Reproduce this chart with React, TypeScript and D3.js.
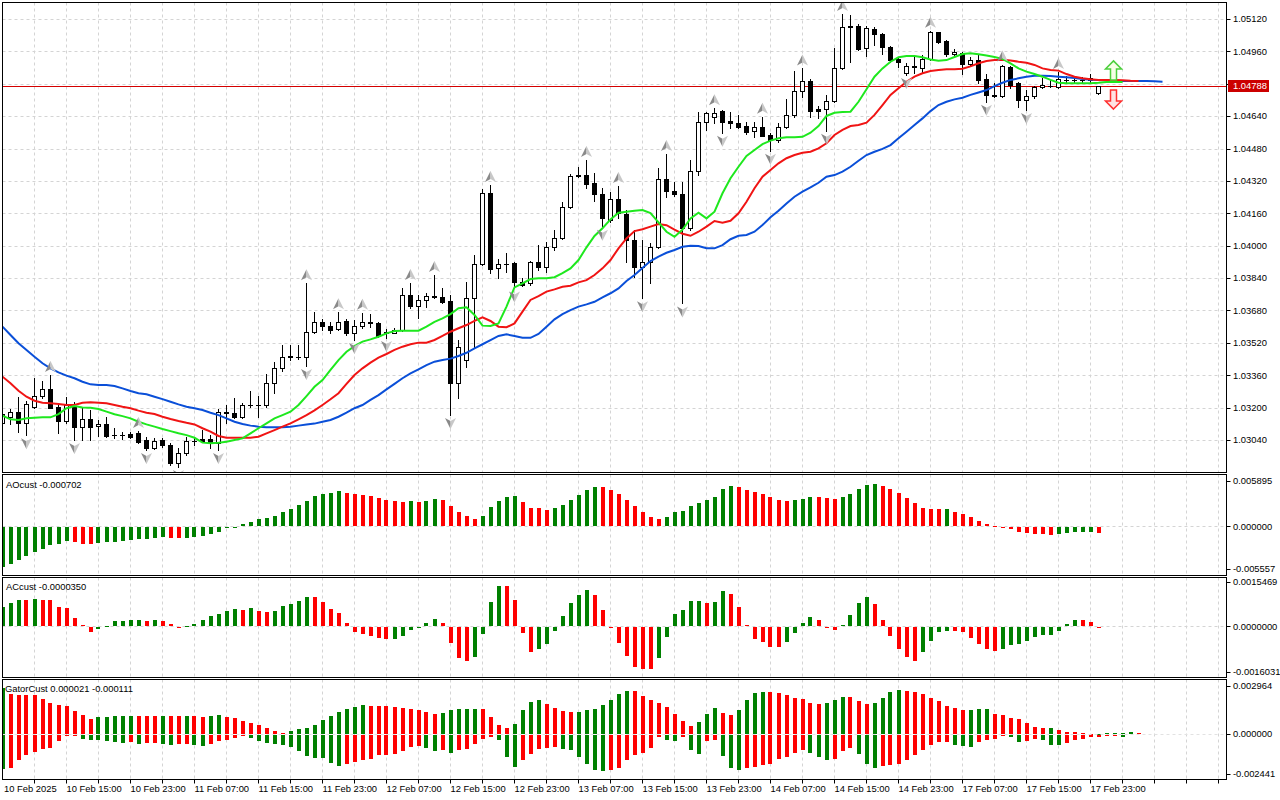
import * as d3 from "d3";
import React, { RefObject, useEffect, useRef } from "react";

// EURUSD H1, 10 Feb 2025 07:00 .. 18 Feb 2025 00:00, prices in points (1e-5)
const POINT = 0.00001;
const open = [
  103124, 103155, 103180, 103122, 103204, 103259, 103290, 103204, 103132, 103204,
  103106, 103142, 103109, 103119, 103063, 103064, 103070, 103076, 103040, 102999,
  103040, 103015, 102925, 102974, 103033, 103045, 103045, 103024, 103180, 103172,
  103152, 103211, 103213, 103213, 103320, 103394, 103455, 103449, 103450, 103575,
  103621, 103605, 103588, 103628, 103567, 103603, 103619, 103616, 103567, 103570,
  103583, 103756, 103703, 103732, 103749, 103748, 103727, 103323, 103435, 103740,
  103909, 104262, 103888, 103908, 103913, 103822, 103814, 103918, 103893, 103992,
  104036, 104190, 104346, 104349, 104308, 104255, 104127, 104229, 104157, 104028,
  103893, 103921, 103992, 104328, 104270, 104254, 104086, 104367, 104613, 104634,
  104665, 104616, 104605, 104591, 104567, 104585, 104547, 104522, 104585, 104646,
  104764, 104814, 104677, 104674, 104713, 104879, 105082, 105085, 104975, 105069,
  105046, 104983, 104921, 104852, 104884, 104879, 104921, 105054, 105011, 104946,
  104953, 104898, 104917, 104822, 104741, 104740, 104884, 104804, 104720, 104740,
  104782, 104791, 104782, 104817, 104819, 104820, 104830, 104753,
];
const high = [
  103193, 103193, 103254, 103233, 103346, 103333, 103361, 103213, 103254, 103229,
  103204, 103188, 103139, 103155, 103098, 103081, 103081, 103084, 103056, 103050,
  103050, 103024, 103000, 103056, 103055, 103089, 103064, 103192, 103213, 103246,
  103223, 103282, 103257, 103364, 103424, 103509, 103509, 103509, 103814, 103674,
  103636, 103624, 103671, 103636, 103633, 103669, 103662, 103621, 103588, 103595,
  103792, 103816, 103756, 103768, 103855, 103789, 103756, 103534, 103822, 103954,
  104278, 104300, 103933, 103965, 103921, 103840, 103922, 104003, 104020, 104077,
  104217, 104354, 104389, 104423, 104361, 104284, 104267, 104295, 104176, 104077,
  104028, 104012, 104382, 104453, 104316, 104316, 104423, 104662, 104662, 104679,
  104670, 104661, 104646, 104613, 104613, 104637, 104555, 104608, 104723, 104863,
  104876, 104825, 104690, 104745, 104978, 105145, 105140, 105095, 105085, 105079,
  105052, 104987, 104934, 104901, 104934, 104942, 105062, 105057, 105016, 104970,
  104958, 104931, 104942, 104848, 104802, 104895, 104890, 104809, 104769, 104789,
  104827, 104819, 104858, 104838, 104833, 104832, 104848, 104790,
];
const low = [
  103109, 103119, 103079, 103064, 103198, 103246, 103196, 103076, 103125, 103040,
  103040, 103040, 103060, 103056, 103048, 103043, 103048, 103024, 102990, 102995,
  103005, 102916, 102906, 102966, 103015, 103031, 102999, 102990, 103124, 103147,
  103147, 103204, 103155, 103204, 103271, 103381, 103435, 103439, 103406, 103570,
  103583, 103570, 103583, 103559, 103534, 103592, 103600, 103550, 103544, 103567,
  103580, 103691, 103644, 103698, 103740, 103715, 103163, 103246, 103402, 103501,
  103904, 103863, 103842, 103871, 103789, 103801, 103808, 103880, 103871, 103979,
  104031, 104185, 104339, 104287, 104222, 104094, 104119, 104135, 103921, 103847,
  103740, 103814, 103987, 104242, 104245, 103715, 104077, 104349, 104572, 104605,
  104558, 104581, 104583, 104552, 104536, 104542, 104469, 104514, 104580, 104637,
  104736, 104637, 104629, 104568, 104710, 104874, 104909, 104967, 104937, 104992,
  104947, 104909, 104884, 104843, 104855, 104855, 104917, 105003, 104937, 104937,
  104848, 104893, 104805, 104711, 104733, 104736, 104779, 104685, 104670, 104729,
  104778, 104782, 104778, 104805, 104805, 104805, 104810, 104749,
];
const close = [
  103168, 103180, 103122, 103216, 103259, 103290, 103199, 103132, 103213, 103106,
  103142, 103106, 103119, 103061, 103065, 103065, 103056, 103031, 102999, 103036,
  103015, 102925, 102974, 103036, 103036, 103036, 103024, 103177, 103172, 103152,
  103213, 103213, 103214, 103320, 103394, 103451, 103449, 103450, 103575, 103621,
  103605, 103583, 103624, 103567, 103603, 103621, 103621, 103555, 103575, 103583,
  103756, 103703, 103732, 103751, 103748, 103720, 103323, 103498, 103740, 103909,
  104262, 103885, 103908, 103909, 103822, 103806, 103918, 103893, 103992, 104036,
  104190, 104346, 104348, 104303, 104254, 104135, 104229, 104160, 104028, 103893,
  103921, 103992, 104328, 104272, 104254, 104086, 104367, 104613, 104654, 104657,
  104613, 104605, 104588, 104563, 104585, 104543, 104522, 104585, 104646, 104764,
  104814, 104667, 104667, 104713, 104879, 105082, 105085, 104970, 105074, 105044,
  104983, 104917, 104909, 104888, 104886, 104921, 105054, 105008, 104946, 104958,
  104896, 104917, 104819, 104745, 104743, 104890, 104794, 104720, 104741, 104782,
  104794, 104790, 104824, 104819, 104820, 104819, 104819, 104788,
];
const lastPrice = 1.04788;

// Alligator lines, already shifted forward (jaw 8, teeth 5, lips 3 bars)
const jaw = [
  103600, 103559, 103518, 103485, 103451, 103419, 103394, 103374, 103358, 103345,
  103328, 103315, 103312, 103312, 103307, 103295, 103282, 103271, 103266, 103254,
  103242, 103229, 103216, 103204, 103197, 103188, 103175, 103163, 103147, 103130,
  103119, 103111, 103106, 103103, 103103, 103103, 103106, 103111, 103116, 103121,
  103130, 103139, 103155, 103175, 103197, 103213, 103238, 103262, 103290, 103317,
  103345, 103369, 103389, 103410, 103427, 103435, 103442, 103455, 103471, 103493,
  103513, 103534, 103554, 103562, 103554, 103545, 103545, 103564, 103600, 103636,
  103662, 103682, 103699, 103710, 103723, 103745, 103765, 103789, 103826, 103855,
  103890, 103924, 103946, 103965, 103979, 103995, 104000, 103998, 103987, 103987,
  104003, 104032, 104049, 104053, 104069, 104102, 104140, 104173, 104209, 104242,
  104267, 104288, 104311, 104341, 104349, 104366, 104390, 104420, 104448, 104464,
  104478, 104497, 104531, 104563, 104596, 104629, 104665, 104695, 104711, 104723,
  104731, 104745, 104757, 104769, 104788, 104805, 104819, 104827, 104835, 104840,
  104840, 104838, 104835, 104832, 104829, 104824, 104820, 104819, 104817, 104815,
  104814, 104814, 104814, 104814, 104812, 104810,
];
const teeth = [
  103353, 103320, 103283, 103254, 103234, 103224, 103221, 103218, 103213, 103213,
  103224, 103226, 103224, 103221, 103213, 103204, 103197, 103185, 103175, 103168,
  103155, 103144, 103134, 103125, 103117, 103098, 103081, 103060, 103051, 103051,
  103051, 103051, 103056, 103073, 103089, 103106, 103122, 103142, 103163, 103186,
  103213, 103241, 103271, 103317, 103361, 103394, 103422, 103447, 103465, 103485,
  103501, 103513, 103521, 103521, 103534, 103554, 103575, 103592, 103608, 103629,
  103646, 103628, 103600, 103597, 103616, 103674, 103732, 103751, 103773, 103784,
  103797, 103802, 103819, 103830, 103855, 103888, 103929, 103987, 104036, 104072,
  104081, 104094, 104107, 104101, 104079, 104059, 104049, 104069, 104094, 104122,
  104114, 104123, 104160, 104217, 104284, 104341, 104374, 104407, 104432, 104448,
  104459, 104464, 104481, 104506, 104547, 104572, 104591, 104596, 104608, 104646,
  104695, 104745, 104778, 104810, 104835, 104852, 104863, 104868, 104872, 104872,
  104874, 104886, 104901, 104912, 104917, 104919, 104915, 104909, 104904, 104893,
  104876, 104868, 104865, 104848, 104835, 104827, 104822, 104819, 104819, 104819,
  104817, 104815, 104814,
];
const lips = [
  103160, 103142, 103139, 103147, 103150, 103152, 103152, 103168, 103197, 103208,
  103201, 103199, 103193, 103180, 103167, 103158, 103147, 103130, 103117, 103106,
  103094, 103084, 103073, 103064, 103051, 103027, 103024, 103027, 103031, 103040,
  103048, 103073, 103098, 103122, 103147, 103163, 103180, 103213, 103257, 103303,
  103336, 103386, 103435, 103476, 103504, 103526, 103537, 103550, 103567, 103578,
  103580, 103580, 103580, 103600, 103624, 103641, 103662, 103691, 103696, 103658,
  103605, 103603, 103616, 103699, 103794, 103814, 103835, 103839, 103839, 103844,
  103864, 103888, 103929, 103992, 104048, 104086, 104130, 104163, 104168, 104173,
  104176, 104161, 104115, 104069, 104044, 104079, 104135, 104163, 104135, 104168,
  104259, 104333, 104390, 104443, 104473, 104502, 104519, 104531, 104536, 104536,
  104538, 104558, 104591, 104641, 104657, 104661, 104662, 104711, 104773, 104835,
  104876, 104909, 104931, 104937, 104937, 104931, 104920, 104914, 104917, 104932,
  104947, 104951, 104946, 104940, 104932, 104923, 104901, 104876, 104860, 104848,
  104835, 104819, 104805, 104802, 104802, 104802, 104802, 104805, 104809, 104809,
  104809,
];

// bars carrying a fractal
const fractalUp = [6, 17, 38, 42, 45, 51, 54, 61, 73, 77, 83, 89, 95, 100, 105, 116, 125, 132];
const fractalDown = [3, 9, 18, 22, 27, 38, 44, 48, 56, 64, 75, 80, 85, 90, 96, 103, 113, 123, 128];

// signal arrows at the right
const signalBar = 139;
const buySignal = 1.04913;
const sellSignal = 1.04675;

// Awesome Oscillator (1e-6)
const ao = [
  -5098, -4710, -4231, -3714, -3196, -2769, -2290, -2122, -1837, -1941,
  -2122, -2200, -1993, -1902, -1863, -1734, -1605, -1514, -1475, -1346,
  -1216, -1346, -1385, -1340, -1216, -1087, -828, -569, -129, -52,
  259, 518, 906, 1035, 1372, 1812, 2200, 2756, 3313, 3921,
  4180, 4270, 4529, 4309, 4180, 4050, 3960, 3701, 3403, 3313,
  3183, 3235, 3180, 3313, 3571, 3442, 2666, 1889, 1372, 983,
  1372, 2536, 3313, 3830, 3960, 3183, 2407, 2394, 2148, 2407,
  2795, 3442, 4089, 4736, 5124, 5098, 4736, 4218, 3442, 2666,
  1889, 1242, 983, 1242, 1889, 2019, 2666, 3054, 3442, 3830,
  4865, 5254, 5124, 4736, 4477, 4180, 3830, 3364, 3313, 3403,
  3533, 3753, 3727, 3662, 3533, 3753, 4180, 4827, 5344, 5474,
  5176, 4827, 4309, 3662, 3015, 2368, 2239, 2200, 2239, 1812,
  1592, 1242, 725, 298, 78, -129, -220, -569, -699, -820,
  -900, -960, -930, -780, -600, -590, -580, -702,
];
// Accelerator Oscillator (1e-7)
const ac = [
  6860, 8050, 9205, 9100, 9555, 9205, 9100, 6755, 6405, 2905,
  455, -1540, -490, 105, 1855, 1890, 2205, 2240, 1855, 2205,
  1855, 805, -350, 105, 805, 2205, 3710, 4305, 5355, 6055,
  5705, 6405, 5355, 5005, 5355, 7105, 7910, 8855, 10255, 10200,
  8505, 6055, 4655, 1155, -1645, -2240, -3045, -3640, -4100, -4000,
  -2940, -1050, -350, 1155, 2450, 1155, -5390, -10640, -11690, -10290,
  -2345, 8610, 14105, 14070, 9205, -1890, -8540, -7490, -5740, -1190,
  3605, 8155, 10955, 12705, 10955, 5705, -140, -5390, -9940, -13790,
  -14490, -14525, -10640, -3290, 4305, 5705, 8855, 8890, 8155, 8505,
  12355, 11305, 6755, 350, -3990, -5040, -6790, -6825, -5040, -1890,
  1155, 3255, 2205, -100, -840, 455, 3955, 8155, 10255, 7805,
  2205, -2940, -7490, -10290, -11690, -8540, -4690, -1540, -1155, -1300,
  -1645, -3745, -5740, -7490, -8190, -7490, -6090, -5740, -4690, -3290,
  -2590, -2555, -1190, 805, 2310, 2275, 1610, -350,
];
// Gator Oscillator (1e-6)
const gatorUpper = [
  2830, 2423, 2413, 2402, 2362, 2117, 1873, 1751, 1710, 1405,
  1140, 937, 1038, 1049, 1099, 1110, 1120, 1110, 1099, 1089,
  1099, 1089, 1079, 1099, 1079, 1038, 1099, 1161, 1038, 957,
  794, 692, 529, 346, 183, 81, 183, 285, 387, 550,
  855, 1099, 1344, 1507, 1670, 1751, 1741, 1731, 1710, 1649,
  1568, 1507, 1446, 1344, 1242, 1303, 1466, 1507, 1527, 1547,
  1507, 1059, 529, 346, 590, 1446, 1955, 2056, 1812, 1608,
  1405, 1344, 1364, 1446, 1547, 1751, 2077, 2423, 2626, 2606,
  2321, 2077, 1914, 1670, 1201, 794, 489, 733, 1242, 1588,
  1303, 1161, 1466, 2077, 2525, 2586, 2565, 2525, 2362, 2179,
  2117, 1873, 1853, 1914, 2056, 2260, 2240, 2016, 1812, 1873,
  2219, 2586, 2688, 2626, 2565, 2423, 2219, 2016, 1710, 1568,
  1466, 1486, 1507, 1517, 1242, 1140, 998, 896, 692, 428,
  346, 366, 244, 122, 112, 41, 15, 21, 35, 40,
  45, 110, 50,
];
const gatorLower = [
  -2056, -1995, -1547, -1201, -1038, -835, -774, -387, -81, -41,
  -224, -285, -326, -387, -428, -489, -428, -529, -489, -468,
  -529, -590, -570, -529, -631, -692, -570, -387, -285, -163,
  -81, -163, -387, -468, -529, -590, -733, -977, -1283, -1384,
  -1405, -1690, -1893, -1751, -1649, -1547, -1446, -1242, -1201, -1140,
  -977, -733, -672, -794, -977, -937, -1099, -937, -835, -529,
  -224, -122, -326, -1344, -1955, -1547, -1181, -835, -774, -733,
  -835, -937, -1344, -1792, -2117, -2199, -2158, -1995, -1507, -1201,
  -1099, -794, -122, -285, -387, -122, -896, -1140, -387, -326,
  -1283, -1995, -2158, -1995, -1955, -1853, -1792, -1446, -1344, -1099,
  -896, -1099, -1344, -1547, -1446, -977, -774, -1140, -1751, -1995,
  -1914, -1853, -1751, -1507, -1242, -896, -631, -428, -407, -590,
  -692, -733, -448, -326, -224, -41, -122, -448, -387, -265,
  -326, -590, -600, -489, -285, -225, -130, -111, -45, -40,
  -120,
];

const priceTicks = [
  1.0512, 1.0496, 1.048, 1.0464, 1.0448, 1.0432, 1.0416,
  1.04, 1.0384, 1.0368, 1.0352, 1.0336, 1.032, 1.0304,
];
const aoTicks = [0.005895, 0, -0.005557];
const acTicks = [0.0015469, 0, -0.0016031];
const gatorTicks = [0.002964, 0, -0.002441];
// one label every 8 bars
const timeLabels = [
  "10 Feb 2025", "10 Feb 15:00", "10 Feb 23:00", "11 Feb 07:00", "11 Feb 15:00",
  "11 Feb 23:00", "12 Feb 07:00", "12 Feb 15:00", "12 Feb 23:00", "13 Feb 07:00",
  "13 Feb 15:00", "13 Feb 23:00", "14 Feb 07:00", "14 Feb 15:00", "14 Feb 23:00",
  "17 Feb 07:00", "17 Feb 15:00", "17 Feb 23:00",
];

const FONT = "'Liberation Sans', Arial, sans-serif";
const GRID = "#d4d4d4";
const GREEN = "#008000";
const RED = "#ff0000";

const App = () => {
  const d3Ref: RefObject<HTMLDivElement> = useRef(null);

  useEffect(() => {
    const root = d3.select(d3Ref.current);
    root.selectAll("*").remove();
    const svg = root
      .append("svg")
      .attr("width", 1280)
      .attr("height", 800)
      .style("display", "block")
      .attr("font-family", FONT)
      .attr("font-size", 9.4);

    svg.append("rect").attr("width", 1280).attr("height", 800).attr("fill", "#fff");

    const L = 2.5;
    const R = 1226.5;
    const xScale = d3.scaleLinear().domain([0, 153]).range([2.5, 1226.5]);
    const yPrice = d3.scaleLinear().domain([1.0304, 1.0512]).range([440, 19]);
    const yAO = d3.scaleLinear().domain([-0.005557, 0.005895]).range([569.2, 480.7]);
    const yAC = d3.scaleLinear().domain([-0.0016031, 0.0015469]).range([672.2, 582.2]);
    const yGator = d3.scaleLinear().domain([-0.002441, 0.002964]).range([774, 685.5]);

    const panels = [
      { id: "main", top: 2.5, bottom: 472.5 },
      { id: "ao", top: 474.5, bottom: 575.5 },
      { id: "ac", top: 577.5, bottom: 677.5 },
      { id: "gator", top: 679.5, bottom: 779.5 },
    ];
    const defs = svg.append("defs");
    panels.forEach((p) => {
      defs
        .append("clipPath")
        .attr("id", `clip-${p.id}`)
        .append("rect")
        .attr("x", L + 0.5)
        .attr("y", p.top + 0.5)
        .attr("width", R - L - 1)
        .attr("height", p.bottom - p.top - 1);
    });

    // vertical grid every 4 bars
    const gridX = d3.range(4, 153, 4).map((i) => xScale(i));
    panels.forEach((p) => {
      svg
        .append("g")
        .selectAll("line")
        .data(gridX)
        .join("line")
        .attr("x1", (d) => d)
        .attr("x2", (d) => d)
        .attr("y1", p.top)
        .attr("y2", p.bottom)
        .attr("stroke", GRID)
        .attr("stroke-dasharray", "3,3");
    });

    const crisp = (v: number) => Math.round(v) + 0.5;

    // ---------- main window ----------
    svg
      .append("g")
      .selectAll("line")
      .data(priceTicks)
      .join("line")
      .attr("x1", L)
      .attr("x2", R)
      .attr("y1", (d) => crisp(yPrice(d)))
      .attr("y2", (d) => crisp(yPrice(d)))
      .attr("stroke", GRID)
      .attr("stroke-dasharray", "3,3");

    svg
      .append("line")
      .attr("x1", L)
      .attr("x2", R)
      .attr("y1", crisp(yPrice(lastPrice)))
      .attr("y2", crisp(yPrice(lastPrice)))
      .attr("stroke", "#d40000");

    const main = svg.append("g").attr("clip-path", "url(#clip-main)");
    const idx = d3.range(close.length);

    main
      .append("g")
      .selectAll("line")
      .data(idx)
      .join("line")
      .attr("x1", (i) => xScale(i))
      .attr("x2", (i) => xScale(i))
      .attr("y1", (i) => Math.round(yPrice(high[i] * POINT)))
      .attr("y2", (i) => Math.round(yPrice(low[i] * POINT)) + 1)
      .attr("stroke", "#000");

    idx.forEach((i) => {
      const o = open[i] * POINT;
      const c = close[i] * POINT;
      const top = crisp(yPrice(Math.max(o, c)));
      const bot = crisp(yPrice(Math.min(o, c)));
      const cx = xScale(i);
      if (bot - top < 1) {
        main
          .append("line")
          .attr("x1", cx - 2.5)
          .attr("x2", cx + 2.5)
          .attr("y1", top)
          .attr("y2", top)
          .attr("stroke", "#000");
      } else {
        main
          .append("rect")
          .attr("x", cx - 2)
          .attr("y", top)
          .attr("width", 4)
          .attr("height", bot - top)
          .attr("fill", c > o ? "#fff" : "#000")
          .attr("stroke", "#000");
      }
    });

    const line = d3
      .line<number>()
      .x((_, i) => xScale(i))
      .y((d) => yPrice(d * POINT));
    [
      { data: jaw, color: "#0a4fd8" },
      { data: teeth, color: "#f01414" },
      { data: lips, color: "#1ee81e" },
    ].forEach((s) => {
      main
        .append("path")
        .datum(s.data)
        .attr("fill", "none")
        .attr("stroke", s.color)
        .attr("stroke-width", 2)
        .attr("d", line);
    });

    // fractals
    const fr = main.append("g");
    fractalUp.forEach((i) => {
      const g = fr
        .append("g")
        .attr("transform", `translate(${xScale(i)},${yPrice(high[i] * POINT) - 8})`);
      g.append("path").attr("d", "M0,-6L0,2L-5.5,5Z").attr("fill", "#8a8a8a");
      g.append("path").attr("d", "M0,-6L5.5,5L0,2Z").attr("fill", "#c8c8c8");
    });
    fractalDown.forEach((i) => {
      const g = fr
        .append("g")
        .attr("transform", `translate(${xScale(i)},${yPrice(low[i] * POINT) + 8})`);
      g.append("path").attr("d", "M0,6L0,-2L-5.5,-5Z").attr("fill", "#8a8a8a");
      g.append("path").attr("d", "M0,6L5.5,-5L0,-2Z").attr("fill", "#c8c8c8");
    });

    // signal arrows
    const sx = xScale(signalBar) - 1;
    const upY = yPrice(buySignal);
    const dnY = yPrice(sellSignal);
    main
      .append("path")
      .attr(
        "d",
        `M${sx},${upY}L${sx + 8},${upY + 8}L${sx + 3},${upY + 8}L${sx + 3},${upY + 19}L${sx - 3},${upY + 19}L${sx - 3},${upY + 8}L${sx - 8},${upY + 8}Z`
      )
      .attr("fill", "#f6ffe6")
      .attr("stroke", "#4ccf3c")
      .attr("stroke-width", 1.5);
    main
      .append("path")
      .attr(
        "d",
        `M${sx},${dnY}L${sx + 8},${dnY - 8}L${sx + 3},${dnY - 8}L${sx + 3},${dnY - 19}L${sx - 3},${dnY - 19}L${sx - 3},${dnY - 8}L${sx - 8},${dnY - 8}Z`
      )
      .attr("fill", "#ffe2e2")
      .attr("stroke", "#ff3030")
      .attr("stroke-width", 1.5);

    // ---------- indicator windows ----------
    const drawHist = (
      clipId: string,
      values: number[],
      unit: number,
      yS: d3.ScaleLinear<number, number>,
      byMagnitude: boolean
    ) => {
      const g = svg.append("g").attr("clip-path", `url(#${clipId})`);
      const y0 = Math.round(yS(0));
      values.forEach((v, i) => {
        const prev = i > 0 ? values[i - 1] : -Infinity;
        const up = byMagnitude ? i === 0 || Math.abs(v) > Math.abs(prev) : v > prev;
        const y1 = Math.round(yS(v * unit));
        const top = Math.min(y0, y1);
        const h = Math.max(1, Math.abs(y1 - y0));
        g.append("rect")
          .attr("x", Math.round(xScale(i) - 2))
          .attr("y", v >= 0 ? top : y0 + 1)
          .attr("width", 4)
          .attr("height", h)
          .attr("fill", up ? GREEN : RED);
      });
    };

    const zeroLine = (yS: d3.ScaleLinear<number, number>, color: string) => {
      svg
        .append("line")
        .attr("x1", L)
        .attr("x2", R)
        .attr("y1", crisp(yS(0)))
        .attr("y2", crisp(yS(0)))
        .attr("stroke", color)
        .attr("stroke-dasharray", "3,3");
    };

    zeroLine(yAO, GRID);
    drawHist("clip-ao", ao, 1e-6, yAO, false);
    zeroLine(yAC, GRID);
    drawHist("clip-ac", ac, 1e-7, yAC, false);
    drawHist("clip-gator", gatorUpper, 1e-6, yGator, true);
    drawHist("clip-gator", gatorLower, 1e-6, yGator, true);
    zeroLine(yGator, "#e2e2e2");

    // titles
    const last = close.length - 1;
    svg.append("text").attr("x", 6).attr("y", 487.5).text(`AOcust ${(ao[last] * 1e-6).toFixed(6)}`);
    svg.append("text").attr("x", 6).attr("y", 590).text(`ACcust ${(ac[last] * 1e-7).toFixed(7)}`);
    svg
      .append("text")
      .attr("x", 5)
      .attr("y", 692)
      .text(
        `GatorCust ${(gatorUpper[last] * 1e-6).toFixed(6)} ${(gatorLower[last] * 1e-6).toFixed(6)}`
      );

    // frames
    panels.forEach((p) => {
      svg
        .append("rect")
        .attr("x", L)
        .attr("y", p.top)
        .attr("width", R - L)
        .attr("height", p.bottom - p.top)
        .attr("fill", "none")
        .attr("stroke", "#000");
    });

    // right axes
    const rightAxis = (ticks: number[], yS: d3.ScaleLinear<number, number>, digits: number) => {
      const g = svg.append("g");
      g.selectAll("line")
        .data(ticks)
        .join("line")
        .attr("x1", R)
        .attr("x2", R + 4)
        .attr("y1", (d) => crisp(yS(d)))
        .attr("y2", (d) => crisp(yS(d)))
        .attr("stroke", "#000");
      g.selectAll("text")
        .data(ticks)
        .join("text")
        .attr("x", 1233)
        .attr("y", (d) => yS(d))
        .attr("dy", "0.35em")
        .text((d) => d.toFixed(digits));
    };
    rightAxis(priceTicks, yPrice, 5);
    rightAxis(aoTicks, yAO, 6);
    rightAxis(acTicks, yAC, 7);
    rightAxis(gatorTicks, yGator, 6);

    // last price tag
    const py = yPrice(lastPrice);
    svg
      .append("rect")
      .attr("x", 1228)
      .attr("y", Math.round(py) - 6)
      .attr("width", 41)
      .attr("height", 12)
      .attr("fill", "#cc0000");
    svg
      .append("text")
      .attr("x", 1233)
      .attr("y", py)
      .attr("dy", "0.35em")
      .attr("fill", "#fff")
      .text(lastPrice.toFixed(5));

    // time axis
    svg
      .append("g")
      .selectAll("line")
      .data(gridX)
      .join("line")
      .attr("x1", (d) => d)
      .attr("x2", (d) => d)
      .attr("y1", 779.5)
      .attr("y2", 783.5)
      .attr("stroke", "#000");
    svg
      .append("g")
      .selectAll("text")
      .data(timeLabels)
      .join("text")
      .attr("x", (_, k) => (k === 0 ? 4 : xScale(k * 8)))
      .attr("y", 791.5)
      .text((d) => d);
  }, [d3Ref]);

  return <div ref={d3Ref} style={{ position: "absolute", left: 0, top: 0 }} />;
};

export default App;
